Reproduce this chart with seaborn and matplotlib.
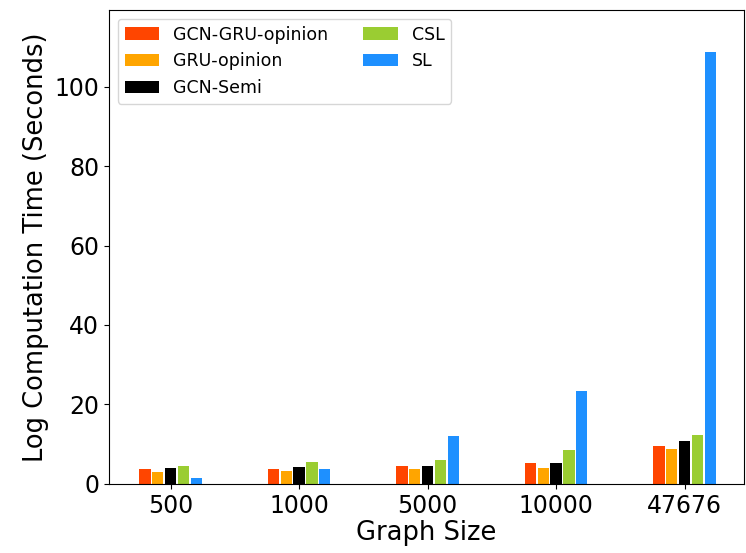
import pandas as pd
import seaborn as sns
import matplotlib.pyplot as plt

sizes = ['500', '1000', '5000', '10000', '47676']
methods = ['GCN-GRU-opinion', 'GRU-opinion', 'GCN-Semi', 'CSL', 'SL']
colors = ['#FF4500', '#FFA500', '#000000', '#9ACD32', '#1E90FF']

gcn_gru_opinion = [3.7, 3.7, 4.6, 5.3, 9.5]
gru_opinion = [3.1, 3.3, 3.7, 3.9, 8.9]
gcn_semi = [3.9, 4.3, 4.6, 5.3, 10.7]
csl = [4.6, 5.6, 5.9, 8.5, 12.4]
sl = [1.4, 3.7, 12.1, 23.4, 108.7]

rows = []
for m, vals in zip(methods, [gcn_gru_opinion, gru_opinion, gcn_semi, csl, sl]):
    for s, v in zip(sizes, vals):
        rows.append({'size': s, 'method': m, 'time': v})
df = pd.DataFrame(rows)

fig = plt.figure(figsize=(7.46, 5.53), dpi=100)
ax = fig.add_axes([0.146, 0.125, 0.851, 0.857])

sns.barplot(data=df, x='size', y='time', hue='method', order=sizes,
            hue_order=methods, palette=colors, width=0.5, gap=0.12,
            saturation=1, errorbar=None, linewidth=0, ax=ax)

ax.set_xlim(-0.48, 4.46)
ax.set_ylim(0, 119.3)
ax.set_xlabel('Graph Size', fontsize=18.5, labelpad=2)
ax.set_ylabel('Log Computation Time (Seconds)', fontsize=18.5)
ax.tick_params(labelsize=17)
ax.legend(ncol=2, loc='upper left', fontsize=12.5, title=None)

fig.savefig('out.png', dpi=100)
